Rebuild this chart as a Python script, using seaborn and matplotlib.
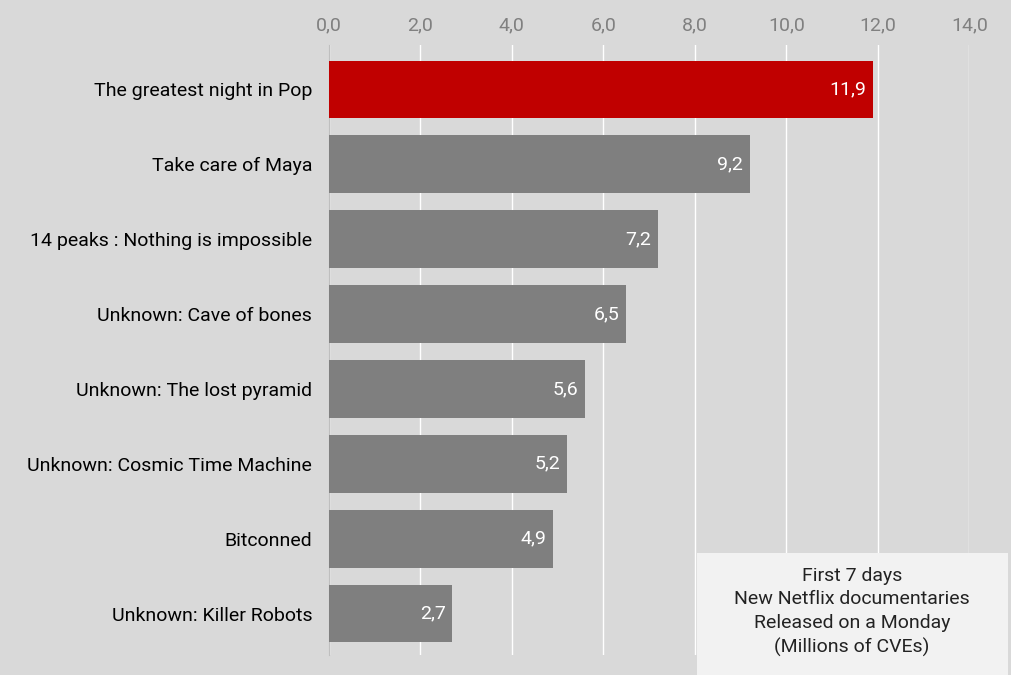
import matplotlib
matplotlib.use("Agg")
import matplotlib.pyplot as plt
import seaborn as sns
import pandas as pd

titles = ["The greatest night in Pop", "Take care of Maya", "14 peaks : Nothing is impossible",
          "Unknown: Cave of bones", "Unknown: The lost pyramid", "Unknown: Cosmic Time Machine",
          "Bitconned", "Unknown: Killer Robots"]
views = [11.9, 9.2, 7.2, 6.5, 5.6, 5.2, 4.9, 2.7]
colors = ["#c00000"] + ["#7f7f7f"] * 7
ticks = [0, 2, 4, 6, 8, 10, 12, 14]

df = pd.DataFrame({"title": titles, "views": views})

plt.rcParams["font.family"] = "Roboto"
fig = plt.figure(figsize=(10.12, 6.75), dpi=100, facecolor="#d9d9d9")
ax = fig.add_axes([0.325, 0.03, 0.633, 0.903])
ax.set_facecolor("#d9d9d9")

sns.barplot(data=df, x="views", y="title", hue="title", palette=colors, legend=False,
            width=0.77, ax=ax, zorder=3, saturation=1)
ax.set_xlim(0, 14)
ax.set_ylim(7.55, -0.59)
ax.set_xticks(ticks)
ax.set_xticklabels([f"{t:.1f}".replace(".", ",") for t in ticks], color="#808080", fontsize=14)
ax.xaxis.tick_top()
ax.tick_params(axis="x", length=0, pad=8)
ax.tick_params(axis="y", length=0, labelsize=14, pad=12)
ax.grid(axis="x", color="white", lw=1, zorder=0)
ax.set_xlabel("")
ax.set_ylabel("")
for s in ["top", "right", "bottom"]:
    ax.spines[s].set_visible(False)
ax.spines["left"].set_color("#bfbfbf")

for i, v in enumerate(views):
    ax.text(v - 0.15, i, f"{v:.1f}".replace(".", ","), color="white", fontsize=14,
            ha="right", va="center", zorder=4)

fig.patches.append(plt.Rectangle((697 / 1012, 0), 311 / 1012, 122 / 675, transform=fig.transFigure,
                                 facecolor="#f2f2f2", edgecolor="none", zorder=5))
fig.text(852 / 1012, 63 / 675, "First 7 days\nNew Netflix documentaries\nReleased on a Monday\n(Millions of CVEs)",
         ha="center", va="center", fontsize=14, linespacing=1.4, zorder=6, color="#222222")

fig.savefig("out.png", dpi=100, facecolor=fig.get_facecolor())
